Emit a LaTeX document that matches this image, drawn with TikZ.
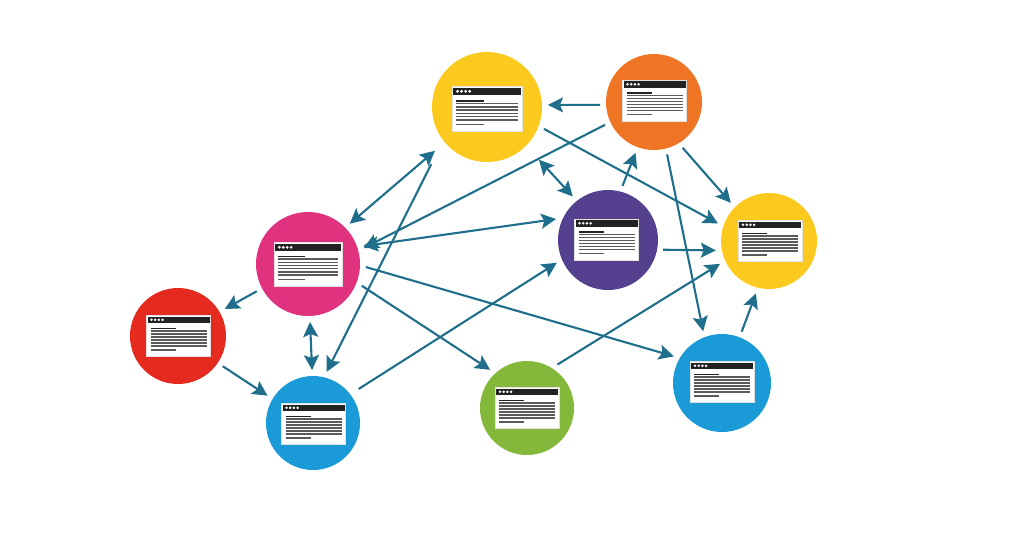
\documentclass[tikz,border=0pt]{standalone}
\usetikzlibrary{arrows.meta}
\definecolor{linkcol}{HTML}{1F6E8C}
\definecolor{sunyellow}{HTML}{FCC91E}
\definecolor{deeporange}{HTML}{EF7423}
\definecolor{rosepink}{HTML}{E0327E}
\definecolor{inkpurple}{HTML}{55408F}
\definecolor{brightred}{HTML}{E52A1F}
\definecolor{skyblue}{HTML}{1A9AD6}
\definecolor{leafgreen}{HTML}{84B83A}
\definecolor{barblack}{HTML}{222222}
\definecolor{textgrey}{HTML}{5A5A5A}
\tikzset{
	site/.style={circle,fill=#1,minimum size=96pt,inner sep=0pt,outer sep=6pt},
	tip/.tip={Stealth[length=15pt,width=15pt,inset=3pt]},
	link/.style={linkcol,line width=2.1pt,-tip},
	both/.style={link,tip-tip},
	pics/webcard/.style={code={
		\fill[white,draw=black!12,line width=.6pt] (-32,-20.5) rectangle (32,20.5);
		\fill[barblack] (-31,-19.5) rectangle (31,-13);
		\foreach \dx in {-27,-23.3,-19.6,-15.9}
			\fill[white] (\dx,-16.2) circle (1.4);
		\draw[barblack,line width=1.8pt] (-28,-7.6) -- (-3,-7.6);
		\foreach \ly in {-5,-2,1,4,7,10}
			\draw[textgrey,line width=1.5pt] (-28,\ly) -- (28,\ly);
		\draw[textgrey,line width=1.5pt] (-28,14) -- (-3,14);
	}}
}
\begin{document}
\begin{tikzpicture}[x=1pt,y=-1pt]
	\useasboundingbox (0,0) rectangle (1024,555);
	% sites
	\node[site=sunyellow,minimum size=110pt] (yellowtop) at (487,107) {};
	\node[site=deeporange] (orange) at (654,102) {};
	\node[site=rosepink,minimum size=104pt] (pink) at (308,264) {};
	\node[site=inkpurple,minimum size=100pt] (purple) at (608,240) {};
	\node[site=sunyellow] (yellowright) at (769,241) {};
	\node[site=brightred] (red) at (178,336) {};
	\node[site=skyblue,minimum size=94pt] (blueleft) at (313,423) {};
	\node[site=leafgreen,minimum size=94pt] (green) at (527,408) {};
	\node[site=skyblue,minimum size=98pt] (blueright) at (722,383) {};
	% page on each site
	\pic[scale=1.09] at (487,109) {webcard};
	\pic at (654.5,100.5) {webcard};
	\pic[scale=1.06] at (308,264.5) {webcard};
	\pic at (606.5,239.5) {webcard};
	\pic at (770,241) {webcard};
	\pic at (178.5,336) {webcard};
	\pic at (313.5,424) {webcard};
	\pic at (527,408) {webcard};
	\pic at (722,382) {webcard};
	% links
	\draw[link] (orange.183) -- (yellowtop.2);
	\draw[link] (yellowtop.-21) -- (yellowright.161);
	\draw[link] (orange.205) -- (pink.16);
	\draw[link] (orange.-58) -- (yellowright.135);
	\draw[link] (orange.-76) -- (blueright.110);
	\draw[link] (purple.75) -- (orange.250);
	\draw[both,shorten <=13pt] (yellowtop.-45) -- (purple.129);
	\draw[both,shorten >=7pt] (pink.44) -- (yellowtop.220);
	\draw[link,shorten <=20pt] (yellowtop.220) -- (blueleft.75);
	\draw[both] (pink.18) -- (purple.158);
	\draw[link] (pink.-3) -- (blueright.151);
	\draw[link] (pink.-22) -- (green.134);
	\draw[link] (pink.208) -- (red.30);
	\draw[both] (pink.-88) -- (blueleft.91);
	\draw[link] (red.-34) -- (blueleft.149);
	\draw[link,shorten <=4pt] (blueleft.37) -- (purple.204);
	\draw[link] (green.55) -- (yellowright.205);
	\draw[link] (purple.-10) -- (yellowright.190);
	\draw[link] (blueright.69) -- (yellowright.256);
\end{tikzpicture}
\end{document}
